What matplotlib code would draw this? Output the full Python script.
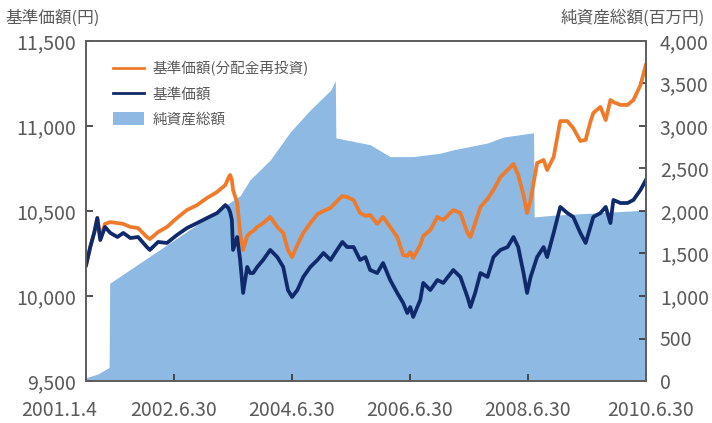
import matplotlib
matplotlib.use("Agg")
import matplotlib.pyplot as plt
import matplotlib.transforms as mtransforms
from matplotlib.lines import Line2D
from matplotlib.patches import Patch
import pandas as pd

plt.rcParams["font.family"] = ["Noto Sans CJK JP", "DejaVu Sans"]

# dates as decimal years
DATES = [
    2001.01, 2001.08, 2001.15, 2001.20, 2001.25, 2001.33, 2001.42, 2001.54, 2001.64, 2001.76,
    2001.89, 2002.04, 2002.09, 2002.23, 2002.38, 2002.55, 2002.72, 2002.89, 2003.06, 2003.23,
    2003.37, 2003.42, 2003.45, 2003.48, 2003.50, 2003.57, 2003.62, 2003.67, 2003.74, 2003.79,
    2003.84, 2003.91, 2004.01, 2004.13, 2004.25, 2004.35, 2004.43, 2004.50, 2004.59, 2004.69,
    2004.81, 2004.93, 2005.03, 2005.15, 2005.26, 2005.35, 2005.43, 2005.54, 2005.65, 2005.74,
    2005.82, 2005.94, 2006.04, 2006.16, 2006.28, 2006.38, 2006.45, 2006.50, 2006.55, 2006.67,
    2006.72, 2006.84, 2006.96, 2007.06, 2007.23, 2007.35, 2007.47, 2007.52, 2007.60, 2007.69,
    2007.81, 2007.91, 2008.03, 2008.15, 2008.25, 2008.33, 2008.42, 2008.48, 2008.54, 2008.65,
    2008.76, 2008.82, 2008.93, 2009.04, 2009.16, 2009.26, 2009.38, 2009.47, 2009.55, 2009.60,
    2009.72, 2009.81, 2009.89, 2009.94, 2010.06, 2010.18, 2010.28, 2010.40, 2010.49,
]

# 基準価額
NAV = [
    10182, 10288, 10376, 10459, 10329, 10406, 10371, 10347, 10371, 10341,
    10347, 10288, 10271, 10318, 10312, 10359, 10400, 10429, 10459, 10488,
    10535, 10518, 10494, 10447, 10271, 10347, 10212, 10018, 10171, 10135,
    10135, 10171, 10212, 10271, 10229, 10171, 10035, 9994, 10035, 10112,
    10171, 10212, 10253, 10212, 10271, 10318, 10288, 10288, 10212, 10229,
    10153, 10135, 10194, 10094, 10018, 9959, 9900, 9935, 9877, 9977,
    10077, 10035, 10094, 10077, 10153, 10112, 9994, 9935, 10018, 10135,
    10112, 10229, 10271, 10288, 10347, 10288, 10135, 10018, 10112, 10229,
    10288, 10229, 10371, 10524, 10488, 10465, 10371, 10312, 10406, 10465,
    10488, 10524, 10429, 10565, 10547, 10547, 10565, 10624, 10682,
]

# 基準価額(分配金再投資)
NAV_REINV = [
    10182, 10288, 10376, 10459, 10341, 10424, 10435, 10429, 10424, 10406,
    10400, 10347, 10335, 10376, 10406, 10459, 10506, 10535, 10577, 10612,
    10653, 10694, 10712, 10682, 10624, 10547, 10371, 10271, 10353, 10371,
    10382, 10406, 10429, 10465, 10406, 10371, 10271, 10229, 10300, 10371,
    10429, 10482, 10500, 10518, 10559, 10588, 10582, 10565, 10488, 10471,
    10477, 10424, 10465, 10406, 10347, 10241, 10235, 10259, 10224, 10300,
    10353, 10388, 10465, 10447, 10506, 10488, 10371, 10347, 10429, 10524,
    10571, 10624, 10700, 10741, 10777, 10712, 10594, 10488, 10565, 10782,
    10800, 10741, 10818, 11029, 11029, 10988, 10912, 10918, 11024, 11077,
    11112, 11035, 11153, 11141, 11124, 11124, 11153, 11241, 11359,
]

# 純資産総額 (百万円)
ASSET_DATES = [
    2001.01, 2001.20, 2001.33, 2001.40, 2001.41, 2003.62, 2003.79, 2004.13, 2004.47, 2004.81,
    2005.15, 2005.23, 2005.24, 2005.82, 2006.16, 2006.55, 2007.01, 2007.23, 2007.81, 2008.08,
    2008.59, 2008.60, 2008.92, 2010.49,
]
ASSETS = [
    40, 80, 130, 160, 1150, 2180, 2370, 2600, 2930, 3190,
    3420, 3530, 2860, 2780, 2640, 2640, 2680, 2720, 2800, 2870,
    2920, 1930, 1950, 2010,
]

TICK_DATES = ["2001-01-04", "2002-06-30", "2004-06-30", "2006-06-30", "2008-06-30", "2010-06-30"]
TICK_LABELS = ["2001.1.4", "2002.6.30", "2004.6.30", "2006.6.30", "2008.6.30", "2010.6.30"]
LEFT_TICKS = [9500, 10000, 10500, 11000, 11500]
RIGHT_TICKS = [0, 500, 1000, 1500, 2000, 2500, 3000, 3500, 4000]

ORANGE = "#EE7A2A"
NAVY = "#10296B"
FILL = "#8DB9E2"
GREY = "#5a5a5a"


def to_dates(dec_years):
    out = []
    for d in dec_years:
        year = int(d)
        start = pd.Timestamp(year=year, month=1, day=1)
        out.append(start + pd.Timedelta(days=(d - year) * 365.25))
    return out


fig = plt.figure(figsize=(7.12, 4.23), dpi=100)
ax = fig.add_axes([86 / 712, 1 - 381 / 423, 560 / 712, 340 / 423])
ax2 = ax.twinx()
ax.set_zorder(ax2.get_zorder() + 1)
ax.patch.set_visible(False)

ax2.fill_between(to_dates(ASSET_DATES), ASSETS, 0, color=FILL, linewidth=0)
dts = to_dates(DATES)
ax.plot(dts, NAV_REINV, color=ORANGE, lw=2.7, solid_joinstyle="round")
ax.plot(dts, NAV, color=NAVY, lw=2.7, solid_joinstyle="round")

ax.set_xlim(pd.Timestamp("2001-01-04"), pd.Timestamp("2010-06-30"))
ax.set_ylim(9500, 11500)
ax2.set_ylim(0, 4000)

ax.set_yticks(LEFT_TICKS)
ax.set_yticklabels([f"{v:,}" for v in LEFT_TICKS])
ax2.set_yticks(RIGHT_TICKS)
ax2.set_yticklabels([f"{v:,}" for v in RIGHT_TICKS])
ax.set_xticks([pd.Timestamp(d) for d in TICK_DATES])
ax.set_xticklabels(TICK_LABELS)

ax.tick_params(axis="x", direction="in", length=5, width=1.2, color="#333333",
               labelsize=14, labelcolor=GREY, pad=14)
ax.tick_params(axis="y", direction="in", length=5, width=1.2, color="#333333",
               labelsize=14, labelcolor=GREY, pad=7)
ax2.tick_params(axis="y", direction="in", length=5, width=1.2, color="#333333",
                labelsize=14, labelcolor=GREY, pad=10)

for a in (ax, ax2):
    for sp in a.spines.values():
        sp.set_color("#606060")
        sp.set_linewidth(1.3)

# nudge the end labels like the original
xl = ax.get_xticklabels()
xl[0].set_transform(xl[0].get_transform() + mtransforms.ScaledTranslation(-0.27, 0, fig.dpi_scale_trans))
xl[-1].set_transform(xl[-1].get_transform() + mtransforms.ScaledTranslation(0.05, 0, fig.dpi_scale_trans))

handles = [
    Line2D([], [], color=ORANGE, lw=2),
    Line2D([], [], color=NAVY, lw=2),
    Patch(facecolor=FILL, edgecolor="none"),
]
labels = ["基準価額(分配金再投資)", "基準価額", "純資産総額"]
leg = ax.legend(handles, labels, loc="upper left", bbox_to_anchor=(0.048, 0.94),
                frameon=False, fontsize=10.5, borderpad=0, borderaxespad=0,
                handlelength=2.1, handleheight=1.0, handletextpad=0.6, labelspacing=0.72)
for t in leg.get_texts():
    t.set_color(GREY)

fig.text(5 / 712, 1 - 18 / 423, "基準価額(円)", ha="left", va="center", fontsize=12, color=GREY)
fig.text(705 / 712, 1 - 18 / 423, "純資産総額(百万円)", ha="right", va="center", fontsize=12, color=GREY)

fig.savefig("out.png", dpi=100, facecolor="white")
